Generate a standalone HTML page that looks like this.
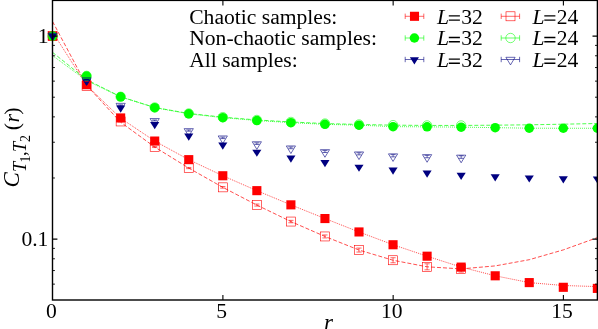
<!DOCTYPE html>
<html><head><meta charset="utf-8"><title>Chart</title><style>html,body{margin:0;padding:0;background:#fff}svg{display:block}</style></head><body>
<svg width="598" height="329" viewBox="0 0 598 329">
<defs><filter id="gs" x="0" y="0" width="100%" height="100%" filterUnits="userSpaceOnUse" color-interpolation-filters="sRGB"><feColorMatrix type="saturate" values="0"/></filter></defs>
<rect width="598" height="329" fill="#fff"/>
<polyline points="52.55,32.10 86.60,85.30 120.65,118.20 154.70,141.05 188.75,159.65 222.80,175.75 256.85,190.65 290.90,204.85 324.95,218.55 359.00,231.95 393.05,244.75 427.10,256.20 461.15,267.10 495.20,275.80 529.25,282.60 563.30,285.50 597.35,286.60" fill="none" stroke="#ff0000" stroke-width="0.7" stroke-dasharray="1,1" stroke-linejoin="round"/>
<polyline points="52.55,21.50 86.60,85.30 120.65,122.20 154.70,147.05 188.75,168.05 222.80,187.35 256.85,205.05 290.90,221.55 324.95,236.45 359.00,250.05 393.05,260.25 427.10,266.80 461.15,268.90 495.20,265.90 529.25,259.70 563.30,249.90 597.35,237.60" fill="none" stroke="#ff0000" stroke-width="0.7" stroke-dasharray="4,2" stroke-linejoin="round"/>
<polyline points="52.55,55.60 86.60,80.60 120.65,96.85 154.70,107.65 188.75,113.85 222.80,117.65 256.85,120.55 290.90,122.65 324.95,124.35 359.00,125.15 393.05,126.65 427.10,126.85 461.15,127.15 495.20,127.65 529.25,128.20 563.30,128.25 597.35,128.25" fill="none" stroke="#00ff00" stroke-width="0.7" stroke-dasharray="1,1" stroke-linejoin="round"/>
<polyline points="52.55,52.35 86.60,79.70 120.65,96.75 154.70,107.45 188.75,113.45 222.80,117.15 256.85,119.95 290.90,121.95 324.95,123.55 359.00,124.45 393.05,125.15 427.10,125.45 461.15,125.45 495.20,125.20 529.25,124.80 563.30,124.20 597.35,123.50" fill="none" stroke="#00ff00" stroke-width="0.7" stroke-dasharray="4,2" stroke-linejoin="round"/>
<rect x="48.00" y="31.55" width="9.10" height="9.10" fill="#ff0000"/>
<rect x="82.05" y="80.15" width="9.10" height="9.10" fill="#ff0000"/>
<rect x="116.10" y="113.40" width="9.10" height="9.10" fill="#ff0000"/>
<rect x="150.15" y="136.50" width="9.10" height="9.10" fill="#ff0000"/>
<rect x="184.20" y="155.10" width="9.10" height="9.10" fill="#ff0000"/>
<rect x="218.25" y="171.20" width="9.10" height="9.10" fill="#ff0000"/>
<rect x="252.30" y="186.10" width="9.10" height="9.10" fill="#ff0000"/>
<rect x="286.35" y="200.30" width="9.10" height="9.10" fill="#ff0000"/>
<rect x="320.40" y="214.00" width="9.10" height="9.10" fill="#ff0000"/>
<rect x="354.45" y="227.40" width="9.10" height="9.10" fill="#ff0000"/>
<rect x="388.50" y="240.20" width="9.10" height="9.10" fill="#ff0000"/>
<rect x="422.55" y="251.65" width="9.10" height="9.10" fill="#ff0000"/>
<rect x="456.60" y="262.55" width="9.10" height="9.10" fill="#ff0000"/>
<rect x="490.65" y="271.25" width="9.10" height="9.10" fill="#ff0000"/>
<rect x="524.70" y="278.05" width="9.10" height="9.10" fill="#ff0000"/>
<rect x="558.75" y="282.75" width="9.10" height="9.10" fill="#ff0000"/>
<rect x="592.80" y="283.85" width="9.10" height="9.10" fill="#ff0000"/>
<circle cx="52.55" cy="36.10" r="4.75" fill="#00ff00"/>
<circle cx="86.60" cy="76.10" r="4.75" fill="#00ff00"/>
<circle cx="120.65" cy="96.85" r="4.75" fill="#00ff00"/>
<circle cx="154.70" cy="107.65" r="4.75" fill="#00ff00"/>
<circle cx="188.75" cy="113.85" r="4.75" fill="#00ff00"/>
<circle cx="222.80" cy="117.65" r="4.75" fill="#00ff00"/>
<circle cx="256.85" cy="120.55" r="4.75" fill="#00ff00"/>
<circle cx="290.90" cy="122.65" r="4.75" fill="#00ff00"/>
<circle cx="324.95" cy="124.35" r="4.75" fill="#00ff00"/>
<circle cx="359.00" cy="125.15" r="4.75" fill="#00ff00"/>
<circle cx="393.05" cy="126.65" r="4.75" fill="#00ff00"/>
<circle cx="427.10" cy="126.85" r="4.75" fill="#00ff00"/>
<circle cx="461.15" cy="127.15" r="4.75" fill="#00ff00"/>
<circle cx="495.20" cy="127.65" r="4.75" fill="#00ff00"/>
<circle cx="529.25" cy="128.20" r="4.75" fill="#00ff00"/>
<circle cx="563.30" cy="128.25" r="4.75" fill="#00ff00"/>
<circle cx="597.35" cy="128.25" r="4.75" fill="#00ff00"/>
<path d="M48.00 33.50H57.10L52.55 40.70Z" fill="#000080"/>
<path d="M82.05 78.80H91.15L86.60 86.00Z" fill="#000080"/>
<path d="M116.10 105.45H125.20L120.65 112.65Z" fill="#000080"/>
<path d="M150.15 121.95H159.25L154.70 129.15Z" fill="#000080"/>
<path d="M184.20 133.55H193.30L188.75 140.75Z" fill="#000080"/>
<path d="M218.25 142.45H227.35L222.80 149.65Z" fill="#000080"/>
<path d="M252.30 149.65H261.40L256.85 156.85Z" fill="#000080"/>
<path d="M286.35 155.55H295.45L290.90 162.75Z" fill="#000080"/>
<path d="M320.40 160.05H329.50L324.95 167.25Z" fill="#000080"/>
<path d="M354.45 164.65H363.55L359.00 171.85Z" fill="#000080"/>
<path d="M388.50 167.55H397.60L393.05 174.75Z" fill="#000080"/>
<path d="M422.55 170.55H431.65L427.10 177.75Z" fill="#000080"/>
<path d="M456.60 172.75H465.70L461.15 179.95Z" fill="#000080"/>
<path d="M490.65 174.20H499.75L495.20 181.40Z" fill="#000080"/>
<path d="M524.70 175.40H533.80L529.25 182.60Z" fill="#000080"/>
<path d="M558.75 176.20H567.85L563.30 183.40Z" fill="#000080"/>
<path d="M592.80 176.40H601.90L597.35 183.60Z" fill="#000080"/>
<rect x="48.05" y="31.60" width="9.00" height="9.00" fill="none" stroke="#ff0000" stroke-width="0.60"/>
<rect x="82.10" y="81.50" width="9.00" height="9.00" fill="none" stroke="#ff0000" stroke-width="0.60"/>
<path d="M86.60 85.70V86.30M84.00 85.70H89.20M84.00 86.30H89.20" stroke="#ff0000" stroke-width="0.60" fill="none"/>
<rect x="116.15" y="116.95" width="9.00" height="9.00" fill="none" stroke="#ff0000" stroke-width="0.60"/>
<path d="M120.65 121.05V121.85M118.05 121.05H123.25M118.05 121.85H123.25" stroke="#ff0000" stroke-width="0.60" fill="none"/>
<rect x="150.20" y="142.55" width="9.00" height="9.00" fill="none" stroke="#ff0000" stroke-width="0.60"/>
<path d="M154.70 146.55V147.55M152.10 146.55H157.30M152.10 147.55H157.30" stroke="#ff0000" stroke-width="0.60" fill="none"/>
<rect x="184.25" y="163.55" width="9.00" height="9.00" fill="none" stroke="#ff0000" stroke-width="0.60"/>
<path d="M188.75 167.45V168.65M186.15 167.45H191.35M186.15 168.65H191.35" stroke="#ff0000" stroke-width="0.60" fill="none"/>
<rect x="218.30" y="182.85" width="9.00" height="9.00" fill="none" stroke="#ff0000" stroke-width="0.60"/>
<path d="M222.80 186.55V188.15M220.20 186.55H225.40M220.20 188.15H225.40" stroke="#ff0000" stroke-width="0.60" fill="none"/>
<rect x="252.35" y="200.55" width="9.00" height="9.00" fill="none" stroke="#ff0000" stroke-width="0.60"/>
<path d="M256.85 204.05V206.05M254.25 204.05H259.45M254.25 206.05H259.45" stroke="#ff0000" stroke-width="0.60" fill="none"/>
<rect x="286.40" y="217.05" width="9.00" height="9.00" fill="none" stroke="#ff0000" stroke-width="0.60"/>
<path d="M290.90 220.35V222.75M288.30 220.35H293.50M288.30 222.75H293.50" stroke="#ff0000" stroke-width="0.60" fill="none"/>
<rect x="320.45" y="231.95" width="9.00" height="9.00" fill="none" stroke="#ff0000" stroke-width="0.60"/>
<path d="M324.95 234.95V237.95M322.35 234.95H327.55M322.35 237.95H327.55" stroke="#ff0000" stroke-width="0.60" fill="none"/>
<rect x="354.50" y="245.55" width="9.00" height="9.00" fill="none" stroke="#ff0000" stroke-width="0.60"/>
<path d="M359.00 248.05V252.05M356.40 248.05H361.60M356.40 252.05H361.60" stroke="#ff0000" stroke-width="0.60" fill="none"/>
<rect x="388.55" y="255.75" width="9.00" height="9.00" fill="none" stroke="#ff0000" stroke-width="0.60"/>
<path d="M393.05 257.75V262.75M390.45 257.75H395.65M390.45 262.75H395.65" stroke="#ff0000" stroke-width="0.60" fill="none"/>
<rect x="422.60" y="262.30" width="9.00" height="9.00" fill="none" stroke="#ff0000" stroke-width="0.60"/>
<path d="M427.10 263.80V269.80M424.50 263.80H429.70M424.50 269.80H429.70" stroke="#ff0000" stroke-width="0.60" fill="none"/>
<rect x="456.65" y="264.40" width="9.00" height="9.00" fill="none" stroke="#ff0000" stroke-width="0.60"/>
<path d="M461.15 265.70V272.10M458.55 265.70H463.75M458.55 272.10H463.75" stroke="#ff0000" stroke-width="0.60" fill="none"/>
<circle cx="52.55" cy="36.10" r="4.70" fill="none" stroke="#00ff00" stroke-width="0.55"/>
<circle cx="86.60" cy="75.90" r="4.70" fill="none" stroke="#00ff00" stroke-width="0.55"/>
<circle cx="120.65" cy="96.75" r="4.70" fill="none" stroke="#00ff00" stroke-width="0.55"/>
<circle cx="154.70" cy="107.45" r="4.70" fill="none" stroke="#00ff00" stroke-width="0.55"/>
<circle cx="188.75" cy="113.45" r="4.70" fill="none" stroke="#00ff00" stroke-width="0.55"/>
<circle cx="222.80" cy="117.15" r="4.70" fill="none" stroke="#00ff00" stroke-width="0.55"/>
<circle cx="256.85" cy="119.95" r="4.70" fill="none" stroke="#00ff00" stroke-width="0.55"/>
<circle cx="290.90" cy="121.95" r="4.70" fill="none" stroke="#00ff00" stroke-width="0.55"/>
<circle cx="324.95" cy="123.55" r="4.70" fill="none" stroke="#00ff00" stroke-width="0.55"/>
<circle cx="359.00" cy="124.45" r="4.70" fill="none" stroke="#00ff00" stroke-width="0.55"/>
<circle cx="393.05" cy="125.15" r="4.70" fill="none" stroke="#00ff00" stroke-width="0.55"/>
<circle cx="427.10" cy="125.45" r="4.70" fill="none" stroke="#00ff00" stroke-width="0.55"/>
<circle cx="461.15" cy="125.45" r="4.70" fill="none" stroke="#00ff00" stroke-width="0.55"/>
<path d="M47.95 33.20H57.15L52.55 40.80Z" fill="none" stroke="#000080" stroke-width="0.60"/>
<path d="M82.00 77.80H91.20L86.60 85.40Z" fill="none" stroke="#000080" stroke-width="0.60"/>
<path d="M86.60 79.46V79.94M84.10 79.46H89.10M84.10 79.94H89.10" stroke="#000080" stroke-width="0.60" fill="none"/>
<path d="M116.05 103.35H125.25L120.65 110.95Z" fill="none" stroke="#000080" stroke-width="0.60"/>
<path d="M120.65 104.85V105.65M118.15 104.85H123.15M118.15 105.65H123.15" stroke="#000080" stroke-width="0.60" fill="none"/>
<path d="M150.10 118.55H159.30L154.70 126.15Z" fill="none" stroke="#000080" stroke-width="0.60"/>
<path d="M154.70 119.97V120.93M152.20 119.97H157.20M152.20 120.93H157.20" stroke="#000080" stroke-width="0.60" fill="none"/>
<path d="M184.15 128.65H193.35L188.75 136.25Z" fill="none" stroke="#000080" stroke-width="0.60"/>
<path d="M188.75 129.91V131.19M186.25 129.91H191.25M186.25 131.19H191.25" stroke="#000080" stroke-width="0.60" fill="none"/>
<path d="M218.20 135.95H227.40L222.80 143.55Z" fill="none" stroke="#000080" stroke-width="0.60"/>
<path d="M222.80 137.13V138.57M220.30 137.13H225.30M220.30 138.57H225.30" stroke="#000080" stroke-width="0.60" fill="none"/>
<path d="M252.25 141.75H261.45L256.85 149.35Z" fill="none" stroke="#000080" stroke-width="0.60"/>
<path d="M256.85 142.85V144.45M254.35 142.85H259.35M254.35 144.45H259.35" stroke="#000080" stroke-width="0.60" fill="none"/>
<path d="M286.30 145.95H295.50L290.90 153.55Z" fill="none" stroke="#000080" stroke-width="0.60"/>
<path d="M290.90 146.97V148.73M288.40 146.97H293.40M288.40 148.73H293.40" stroke="#000080" stroke-width="0.60" fill="none"/>
<path d="M320.35 149.65H329.55L324.95 157.25Z" fill="none" stroke="#000080" stroke-width="0.60"/>
<path d="M324.95 150.59V152.51M322.45 150.59H327.45M322.45 152.51H327.45" stroke="#000080" stroke-width="0.60" fill="none"/>
<path d="M354.40 151.95H363.60L359.00 159.55Z" fill="none" stroke="#000080" stroke-width="0.60"/>
<path d="M359.00 152.81V154.89M356.50 152.81H361.50M356.50 154.89H361.50" stroke="#000080" stroke-width="0.60" fill="none"/>
<path d="M388.45 153.85H397.65L393.05 161.45Z" fill="none" stroke="#000080" stroke-width="0.60"/>
<path d="M393.05 154.63V156.87M390.55 154.63H395.55M390.55 156.87H395.55" stroke="#000080" stroke-width="0.60" fill="none"/>
<path d="M422.50 154.65H431.70L427.10 162.25Z" fill="none" stroke="#000080" stroke-width="0.60"/>
<path d="M427.10 155.35V157.75M424.60 155.35H429.60M424.60 157.75H429.60" stroke="#000080" stroke-width="0.60" fill="none"/>
<path d="M456.55 155.15H465.75L461.15 162.75Z" fill="none" stroke="#000080" stroke-width="0.60"/>
<path d="M461.15 155.77V158.33M458.65 155.77H463.65M458.65 158.33H463.65" stroke="#000080" stroke-width="0.60" fill="none"/>
<rect x="52.50" y="0.40" width="544.90" height="299.60" fill="none" stroke="#000" stroke-width="1.4"/>
<path d="M52.50 177.99h2.40M597.40 177.99h-2.40M52.50 142.24h2.40M597.40 142.24h-2.40M52.50 116.88h2.40M597.40 116.88h-2.40M52.50 97.21h2.40M597.40 97.21h-2.40M52.50 81.14h2.40M597.40 81.14h-2.40M52.50 67.55h2.40M597.40 67.55h-2.40M52.50 55.77h2.40M597.40 55.77h-2.40M52.50 45.39h2.40M597.40 45.39h-2.40M52.50 284.14h2.40M597.40 284.14h-2.40M52.50 270.55h2.40M597.40 270.55h-2.40M52.50 258.77h2.40M597.40 258.77h-2.40M52.50 248.39h2.40M597.40 248.39h-2.40" stroke="#000" stroke-width="0.9" fill="none"/>
<path d="M52.50 36.10h4.90M597.40 36.10h-4.90M52.50 239.10h4.90M597.40 239.10h-4.90M222.90 300.00v-5.00M222.90 0.40v5.00M393.15 300.00v-5.00M393.15 0.40v5.00M563.40 300.00v-5.00M563.40 0.40v5.00" stroke="#000" stroke-width="1.1" fill="none"/>
<path d="M405.20 16.30H423.80M405.20 13.60V19.00M423.80 13.60V19.00" stroke="#ff0000" stroke-width="0.60" fill="none"/>
<path d="M501.20 16.30H519.60M501.20 13.60V19.00M519.60 13.60V19.00" stroke="#ff0000" stroke-width="0.60" fill="none"/>
<path d="M405.20 38.00H423.80M405.20 35.30V40.70M423.80 35.30V40.70" stroke="#00ff00" stroke-width="0.60" fill="none"/>
<path d="M501.20 38.00H519.60M501.20 35.30V40.70M519.60 35.30V40.70" stroke="#00ff00" stroke-width="0.60" fill="none"/>
<path d="M405.20 59.50H423.80M405.20 56.80V62.20M423.80 56.80V62.20" stroke="#000080" stroke-width="0.60" fill="none"/>
<path d="M501.20 59.50H519.60M501.20 56.80V62.20M519.60 56.80V62.20" stroke="#000080" stroke-width="0.60" fill="none"/>
<rect x="409.95" y="11.75" width="9.10" height="9.10" fill="#ff0000"/>
<rect x="506.00" y="11.80" width="9.00" height="9.00" fill="none" stroke="#ff0000" stroke-width="0.60"/>
<circle cx="414.40" cy="38.00" r="4.75" fill="#00ff00"/>
<circle cx="510.50" cy="38.00" r="4.70" fill="none" stroke="#00ff00" stroke-width="0.55"/>
<path d="M409.85 57.20H418.95L414.40 64.40Z" fill="#000080"/>
<path d="M505.90 57.30H515.10L510.50 64.90Z" fill="none" stroke="#000080" stroke-width="0.60"/>
<g font-family="'Liberation Serif', serif" fill="#000" filter="url(#gs)">
<text x="189.20" y="23.50" font-size="21.6" text-anchor="start" >Chaotic samples:</text>
<text x="189.20" y="45.10" font-size="21.6" text-anchor="start" >Non-chaotic samples:</text>
<text x="189.20" y="66.70" font-size="21.6" text-anchor="start" >All samples:</text>
<text x="437.00" y="23.50" font-size="21.6" text-anchor="start" font-style="italic">L</text>
<text x="461.30" y="23.50" font-size="21.6" text-anchor="start" >32</text>
<path d="M448.80 15.90h11.1M448.80 20.10h11.1" stroke="#000" stroke-width="1.4" fill="none"/>
<text x="532.50" y="23.50" font-size="21.6" text-anchor="start" font-style="italic">L</text>
<text x="556.80" y="23.50" font-size="21.6" text-anchor="start" >24</text>
<path d="M544.30 15.90h11.1M544.30 20.10h11.1" stroke="#000" stroke-width="1.4" fill="none"/>
<text x="437.00" y="45.10" font-size="21.6" text-anchor="start" font-style="italic">L</text>
<text x="461.30" y="45.10" font-size="21.6" text-anchor="start" >32</text>
<path d="M448.80 37.50h11.1M448.80 41.70h11.1" stroke="#000" stroke-width="1.4" fill="none"/>
<text x="532.50" y="45.10" font-size="21.6" text-anchor="start" font-style="italic">L</text>
<text x="556.80" y="45.10" font-size="21.6" text-anchor="start" >24</text>
<path d="M544.30 37.50h11.1M544.30 41.70h11.1" stroke="#000" stroke-width="1.4" fill="none"/>
<text x="437.00" y="66.70" font-size="21.6" text-anchor="start" font-style="italic">L</text>
<text x="461.30" y="66.70" font-size="21.6" text-anchor="start" >32</text>
<path d="M448.80 59.10h11.1M448.80 63.30h11.1" stroke="#000" stroke-width="1.4" fill="none"/>
<text x="532.50" y="66.70" font-size="21.6" text-anchor="start" font-style="italic">L</text>
<text x="556.80" y="66.70" font-size="21.6" text-anchor="start" >24</text>
<path d="M544.30 59.10h11.1M544.30 63.30h11.1" stroke="#000" stroke-width="1.4" fill="none"/>
<text x="48.60" y="43.40" font-size="21.6" text-anchor="end" >1</text>
<text x="48.40" y="246.30" font-size="21.6" text-anchor="end" >0.1</text>
<text x="51.35" y="318.00" font-size="21.6" text-anchor="middle" >0</text>
<text x="221.60" y="318.00" font-size="21.6" text-anchor="middle" >5</text>
<text x="391.85" y="318.00" font-size="21.6" text-anchor="middle" >10</text>
<text x="562.10" y="318.00" font-size="21.6" text-anchor="middle" >15</text>
<text x="328.40" y="329.60" font-size="23" text-anchor="middle" font-style="italic">r</text>
<g transform="translate(19.2,187.5) rotate(-90)">
<text x="0.00" y="0.00" font-size="23" font-style="italic">C</text>
<text x="15.60" y="7.00" font-size="18.4" font-style="italic">T</text>
<text x="25.05" y="11.05" font-size="14">1</text>
<text x="31.40" y="7.00" font-size="18.4">,</text>
<text x="35.60" y="7.00" font-size="18.4" font-style="italic">T</text>
<text x="45.50" y="11.05" font-size="14">2</text>
<text x="57.35" y="-0.50" font-size="22">(</text>
<text x="64.90" y="-0.50" font-size="22" font-style="italic">r</text>
<text x="72.70" y="-0.50" font-size="22">)</text>
</g>
</g>
</svg>
</body></html>
